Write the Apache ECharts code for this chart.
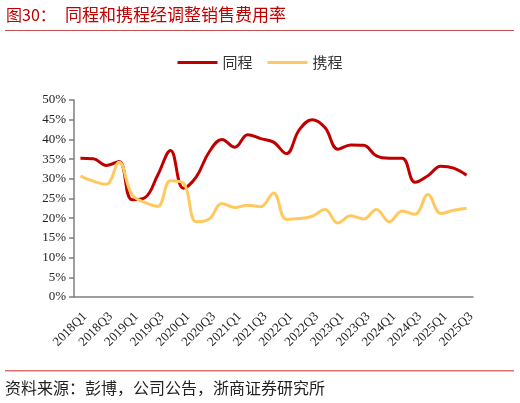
<!DOCTYPE html>
<html>
<head>
<meta charset="utf-8">
<script src="https://cdn.jsdelivr.net/npm/echarts@6/dist/echarts.min.js"></script>
<style>
  html, body { margin: 0; padding: 0; background: #fff; }
  #chart { width: 520px; height: 403px; }
</style>
</head>
<body>
<div id="chart"></div>
<script>
// 季度
const quarters = [
    '2018Q1', '2018Q2', '2018Q3', '2018Q4',
    '2019Q1', '2019Q2', '2019Q3', '2019Q4',
    '2020Q1', '2020Q2', '2020Q3', '2020Q4',
    '2021Q1', '2021Q2', '2021Q3', '2021Q4',
    '2022Q1', '2022Q2', '2022Q3', '2022Q4',
    '2023Q1', '2023Q2', '2023Q3', '2023Q4',
    '2024Q1', '2024Q2', '2024Q3', '2024Q4',
    '2025Q1', '2025Q2', '2025Q3'
];

// 同程 经调整销售费用率 (%)
const tongcheng = [
    35.2, 35.1, 33.4, 34.4, 24.7, 25.2, 30.9, 37.2,
    27.6, 30.5, 36.8, 40.0, 38.0, 41.2, 40.2, 39.3,
    36.4, 42.4, 45.0, 43.0, 37.5, 38.6, 38.5, 35.8,
    35.2, 35.2, 29.1, 30.8, 33.2, 32.7, 30.9
];

// 携程 经调整销售费用率 (%)
const xiecheng = [
    30.7, 29.4, 28.6, 34.2, 26.0, 24.0, 23.0, 29.5,
    28.9, 19.1, 19.8, 23.7, 22.7, 23.3, 22.9, 26.4,
    19.7, 19.9, 20.5, 22.2, 18.8, 20.6, 19.8, 22.2,
    19.1, 21.8, 21.0, 26.0, 21.2, 22.0, 22.5
];

const chart = echarts.init(document.getElementById('chart'), null, { renderer: 'canvas' });

const serif = '"Liberation Serif", "Times New Roman", serif';
const cjk = '"Noto Sans CJK SC", sans-serif';

chart.setOption({
    animation: false,
    backgroundColor: '#fff',
    grid: { left: 74, right: 47, top: 100, bottom: 106 },
    legend: {
        top: 50,
        left: 'center',
        itemWidth: 40,
        itemHeight: 3,
        itemGap: 15,
        icon: 'rect',
        textStyle: { fontFamily: cjk, fontSize: 15, color: '#333' },
        data: ['同程', '携程']
    },
    xAxis: {
        type: 'category',
        data: quarters,
        boundaryGap: true,
        axisLine: { lineStyle: { color: '#7f7f7f', width: 1.5 } },
        axisTick: { interval: 0, length: 5, lineStyle: { color: '#7f7f7f', width: 1.5 } },
        axisLabel: {
            interval: 1,
            rotate: 45,
            margin: 13,
            verticalAlign: 'top',
            fontFamily: serif,
            fontSize: 13,
            color: '#222'
        }
    },
    yAxis: {
        type: 'value',
        min: 0,
        max: 50,
        interval: 5,
        splitLine: { show: false },
        axisLine: { show: true, lineStyle: { color: '#7f7f7f', width: 1.5 } },
        axisTick: { show: true, length: 5, lineStyle: { color: '#7f7f7f', width: 1.5 } },
        axisLabel: {
            formatter: '{value}%',
            margin: 8,
            fontFamily: serif,
            fontSize: 13,
            color: '#222'
        }
    },
    series: [
        {
            name: '同程',
            type: 'line',
            data: tongcheng,
            smooth: 0.4,
            symbol: 'none',
            itemStyle: { color: '#c00000' },
            lineStyle: { width: 3, color: '#c00000' }
        },
        {
            name: '携程',
            type: 'line',
            data: xiecheng,
            smooth: 0.4,
            symbol: 'none',
            itemStyle: { color: '#ffc95f' },
            lineStyle: { width: 3, color: '#ffc95f' }
        }
    ],
    graphic: [
        {
            type: 'text', left: 6, top: 7,
            style: { text: '图30：', fontFamily: cjk, fontSize: 16, fill: '#c00000' }
        },
        {
            type: 'text', left: 65, top: 6,
            style: { text: '同程和携程经调整销售费用率', fontFamily: cjk, fontSize: 17, fill: '#c00000' }
        },
        {
            type: 'rect', left: 5, top: 30,
            shape: { width: 509, height: 1 },
            style: { fill: '#c0504d' }
        },
        {
            type: 'rect', left: 5, top: 370,
            shape: { width: 509, height: 1.5 },
            style: { fill: '#e07070' }
        },
        {
            type: 'text', left: 5, top: 380,
            style: { text: '资料来源：彭博，公司公告，浙商证券研究所', fontFamily: cjk, fontSize: 16, fill: '#222' }
        }
    ]
});
</script>
</body>
</html>
